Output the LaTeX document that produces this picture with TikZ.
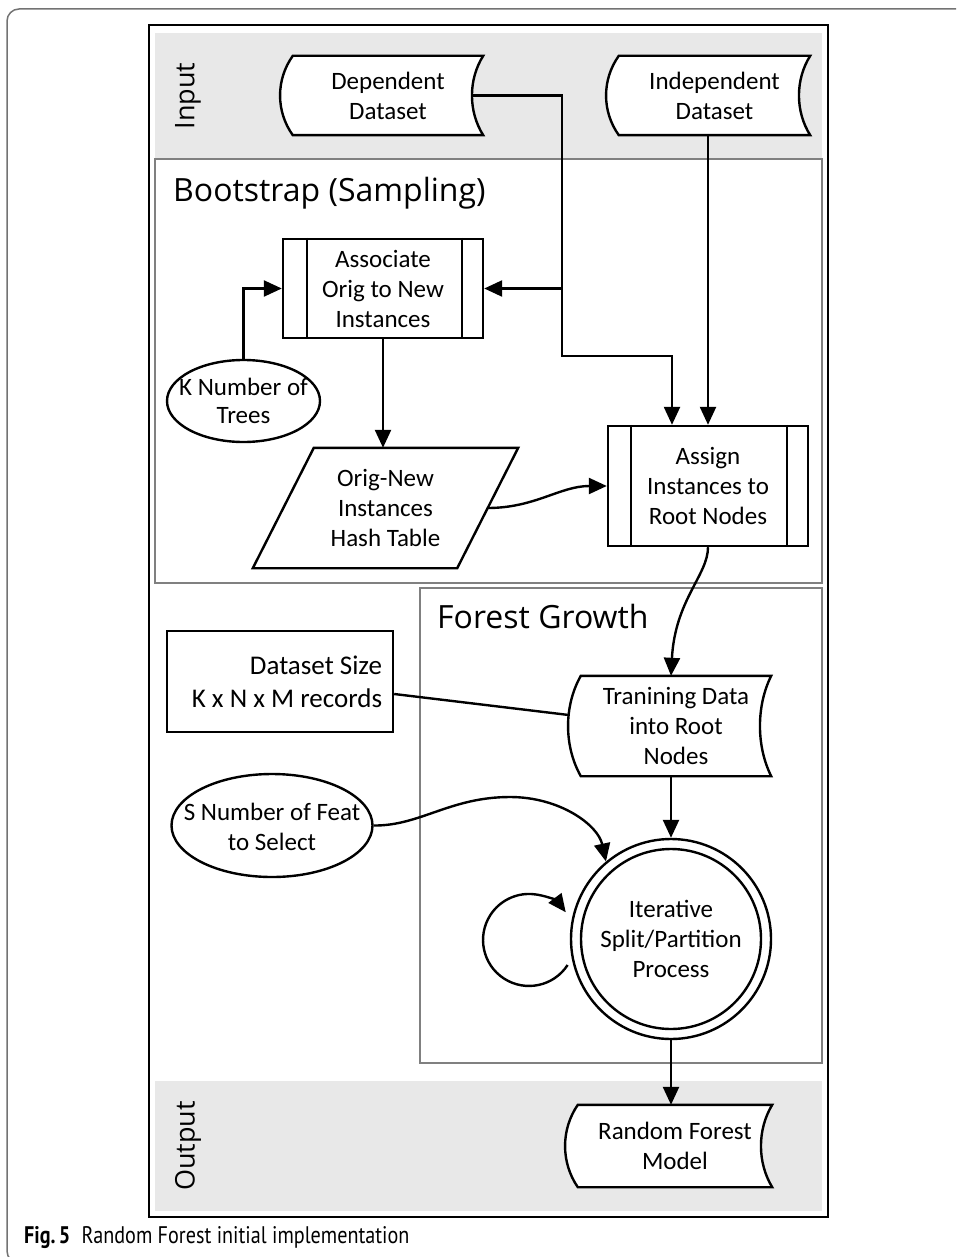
\documentclass[tikz,border=0pt]{standalone}
\usepackage{fontspec}
\setmainfont{Carlito}
\newfontfamily\headfont{Open Sans}
\newfontfamily\capfont{PT Sans}
\usetikzlibrary{arrows.meta,shapes.geometric,calc}

\pgfdeclarelayer{back}
\pgfdeclarelayer{shapes}
\pgfsetlayers{back,shapes,main}

\tikzset{
  body/.style={font=\fontsize{25}{30}\selectfont, align=center},
  heading/.style={font=\headfont\fontsize{32}{36}\selectfont, anchor=base west, inner sep=0},
  bandlabel/.style={font=\headfont\fontsize{27}{32}\selectfont, rotate=90, inner sep=0},
  conn/.style={line width=2.4pt},
  arr/.style={conn, -{Triangle[length=18pt,width=16pt]}},
  outline/.style={line width=2.4pt, fill=white, line join=miter},
  tapebox/.style={body, inner sep=0},
  procbox/.style={body, draw, line width=2.4pt, fill=white, inner sep=0},
  ovalbox/.style={ellipse, draw, line width=2.4pt, inner sep=0},
  region/.style={draw=black!50, line width=1.6pt},
  band/.style={fill=black!9},
}

% stored-data outline: straight top and bottom, both sides bowed to the left
\newcommand\tapeoutline[1]{%
  \begin{pgfonlayer}{shapes}
  \draw[outline] (#1.north west) -- (#1.north east)
    .. controls ($(#1.north east)!0.3!(#1.south east)+(-15,0)$)
           and ($(#1.north east)!0.7!(#1.south east)+(-15,0)$) .. (#1.south east)
    -- (#1.south west)
    .. controls ($(#1.north west)!0.7!(#1.south west)+(-17,0)$)
           and ($(#1.north west)!0.3!(#1.south west)+(-17,0)$) .. cycle;
  \end{pgfonlayer}}

\begin{document}
\begin{tikzpicture}[x=1pt,y=-1pt]
\useasboundingbox (0,0) rectangle (956,1257);
\clip (0,0) rectangle (956,1257);

% page frame and figure frame
\draw[draw=black!55, line width=1.5pt, rounded corners=12pt] (7,9) rectangle (990,1263);

\begin{pgfonlayer}{back}
  \fill[band] (155,33) rectangle (822,159);
  \fill[band] (155,1081) rectangle (822,1211);
  \draw[region] (155,159) rectangle (822,583);
  \draw[region] (420,588) rectangle (822,1063);
  \draw[line width=2.6pt] (149,25) rectangle (828,1217);
\end{pgfonlayer}

% lane labels and section headings
\node[bandlabel] (inlabel) at (188,96) {Input};
\node[bandlabel] (outlabel) at (188,1146) {Output};
\node[heading] (boottitle) at (173,202) {Bootstrap (Sampling)};
\node[heading] (foresttitle) at (437,628) {Forest Growth};

% input data
\node[tapebox, minimum width=190pt, minimum height=79pt] (dep) at (388,95.5) {Dependent\\Dataset};
\tapeoutline{dep}
\node[tapebox, minimum width=191pt, minimum height=79pt] (ind) at (714.5,95.5) {Independent\\Dataset};
\tapeoutline{ind}

% bootstrap stage
\node[procbox, minimum width=200pt, minimum height=99pt] (assoc) at (383,288.5) {Associate\\Orig to New\\Instances};
\draw[conn] ([xshift=25pt]assoc.north west) -- ([xshift=25pt]assoc.south west);
\draw[conn] ([xshift=-22pt]assoc.north east) -- ([xshift=-22pt]assoc.south east);

\node[ovalbox, minimum width=153pt, minimum height=82pt] (knum) at (243.5,401) {};
\node[body, font=\fontsize{25}{28}\selectfont] (ktext) at (knum) {K Number of\\Trees};

\node[body, minimum width=204pt, minimum height=120pt, inner sep=0] (hash) at (385.5,508) {Orig-New\\Instances\\Hash Table};
\begin{pgfonlayer}{shapes}
  \draw[outline] ($(hash.north west)+(30.5,0)$) -- ($(hash.north east)+(30.5,0)$)
    -- ($(hash.south east)+(-30.5,0)$) -- ($(hash.south west)+(-30.5,0)$) -- cycle;
\end{pgfonlayer}

\node[procbox, minimum width=200pt, minimum height=120pt] (assign) at (708,486) {Assign\\Instances to\\Root Nodes};
\draw[conn] ([xshift=24pt]assign.north west) -- ([xshift=24pt]assign.south west);
\draw[conn] ([xshift=-22pt]assign.north east) -- ([xshift=-22pt]assign.south east);

% forest growth stage
\node[draw, line width=2.4pt, minimum width=226pt, minimum height=101pt, inner sep=0] (dsize) at (280,681.5) {};
\node[anchor=east, align=right, inner sep=0, font=\fontsize{27}{33}\selectfont] (dstext)
  at ($(dsize.east)+(-12,0)$) {Dataset Size\\K x N x M records};

\node[tapebox, minimum width=190pt, minimum height=100pt] (train) at (676,726) {Tranining Data\\into Root\\Nodes};
\tapeoutline{train}

\node[ovalbox, minimum width=201pt, minimum height=103pt] (snum) at (272,825.5) {};
\node[body] (stext) at (272,827) {S Number of Feat\\to Select};

\node[circle, draw, line width=2.4pt, minimum size=200pt, inner sep=0] (iter) at (671,939) {};
\node[circle, draw, line width=2.4pt, minimum size=180pt, inner sep=0, body] (iterin) at (iter) {Iterative\\Split/Partition\\Process};

% output
\node[tapebox, minimum width=194pt, minimum height=82pt] (rf) at (675,1146) {Random Forest\\Model};
\tapeoutline{rf}

% connectors
\coordinate (split) at (562,288.5);
\draw[conn] ([xshift=-11pt]dep.east) -| (split);
\draw[arr] (split) -- (assoc.east);
\draw[arr] (split) -- ++(0,67.5) -| ([xshift=-36pt]assign.north);
\draw[arr] (assign.north |- ind.south) -- (assign.north);
\draw[arr] (knum.north) |- (assoc.west);
\draw[arr] (assoc.south) -- (assoc.south |- hash.north);
\draw[arr] (hash.east) .. controls (535,508) and (560,486) .. (assign.west);
\draw[arr] (assign.south) .. controls (708,575) and (675,600) .. (iter.north |- train.north);
\draw[conn] ([yshift=-12.5pt]dsize.east) -- ([xshift=-12pt,yshift=11pt]train.west);
\draw[arr] (iter.north |- train.south) -- (iter.north);
\draw[arr] (snum.east) .. controls (420,826) and (450,797) .. (510,797)
           .. controls (560,797) and (598,825) .. (iter.130);
\draw[arr] ($(iter.center)+(-103.4,26)$) arc[start angle=33, end angle=323, radius=46];
\draw[arr] (iter.south) -- (iter.south |- rf.north);

% caption
\node[anchor=base west, inner sep=0, font=\capfont\fontsize{24}{28}\selectfont] (cap) at (24,1243)
  {\scalebox{0.84}[1]{\textbf{Fig.\,5}\hspace{0.55em}Random Forest initial implementation}};
\end{tikzpicture}
\end{document}
